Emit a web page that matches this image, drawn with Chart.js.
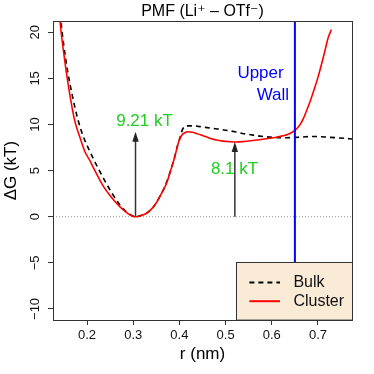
<!DOCTYPE html>
<html><head><meta charset="utf-8">
<script src="https://cdn.jsdelivr.net/npm/chart.js@4.4.1/dist/chart.umd.min.js"></script>
<style>html,body{margin:0;padding:0;background:#fff;}</style>
</head><body>
<canvas id="c" width="374" height="374"></canvas>
<script>
// ---- data ----
const rCluster = [0.1405,0.142,0.150,0.160,0.173,0.184,0.195,0.206,0.217,0.228,0.238,0.249,0.260,0.271,0.282,0.292,0.300,0.306,0.315,0.328,0.340,0.350,0.361,0.372,0.381,0.390,0.397,0.404,0.412,0.419,0.428,0.437,0.450,0.466,0.480,0.494,0.510,0.523,0.540,0.559,0.577,0.595,0.610,0.624,0.638,0.650,0.660,0.668,0.676,0.685,0.693,0.701,0.709,0.716,0.722,0.729];
const gCluster = [22.0,21.0,17.6,14.1,10.5,8.7,7.1,6.1,5.0,3.95,3.1,2.35,1.68,1.1,0.6,0.22,0.03,0.0,0.08,0.35,0.85,1.5,2.5,3.6,5.0,6.5,7.9,8.75,9.12,9.21,9.15,9.02,8.8,8.52,8.32,8.2,8.13,8.1,8.16,8.27,8.38,8.5,8.62,8.77,9.0,9.35,9.9,10.6,11.6,12.8,14.0,15.3,16.8,18.2,19.4,20.3];
const rBulk = [0.1425,0.1435,0.150,0.158,0.168,0.180,0.192,0.205,0.218,0.230,0.243,0.256,0.270,0.285,0.298,0.306,0.318,0.330,0.342,0.355,0.367,0.378,0.388,0.396,0.402,0.407,0.415,0.430,0.451,0.470,0.487,0.505,0.523,0.540,0.559,0.577,0.595,0.613,0.632,0.650,0.668,0.686,0.704,0.722,0.740,0.756,0.775];
const gBulk = [22.0,21.3,18.5,15.8,13.2,10.6,8.7,7.2,5.85,4.7,3.5,2.4,1.35,0.55,0.1,0.0,0.15,0.42,0.95,1.95,3.1,4.55,6.15,7.7,8.7,9.5,9.85,9.85,9.72,9.6,9.48,9.35,9.18,9.0,8.85,8.72,8.63,8.58,8.56,8.6,8.65,8.7,8.68,8.62,8.56,8.5,8.42];
const xTickValues = [0.2,0.3,0.4,0.5,0.6,0.7];
const yTickValues = [-10,-5,0,5,10,15,20];
const xLimits = [0.1264, 0.7736];
const yLimits = [-11.2, 21.2];
const zeroLevel = 0;
const wallR = 0.65;
const arrowR = [0.305, 0.52];
const arrowBase = [0, 0];
const arrowTop = [9.21, 8.1];
const arrowLabels = ['9.21 kT', '8.1 kT'];
const arrowLabelR = [0.3245, 0.5193];
const arrowLabelG = [10.35, 5.1];
const wallLabels = ['Upper', 'Wall'];
const wallLabelR = [0.5756, 0.6024];
const wallLabelG = [15.5, 13.2];
const legendLabels = ['Bulk', 'Cluster'];
const titleText = 'PMF (Li\u207A \u2013 OTf\u207B)';
const xTitle = 'r (nm)';
const yTitle = '\u0394G (kT)';

// ---- drawing ----
const FONT = "'Liberation Sans', Arial, 'DejaVu Sans', sans-serif";
const pts = (xs, ys) => xs.map((x, i) => ({x: x, y: ys[i]}));

const extras = {
  id: 'extras',
  afterDatasetsDraw(chart) {
    const {ctx, chartArea: a, scales: {x, y}} = chart;
    ctx.save();
    // arrows
    ctx.strokeStyle = '#333'; ctx.fillStyle = '#222'; ctx.lineWidth = 1.5;
    arrowR.forEach((r, i) => {
      const px = x.getPixelForValue(r);
      const p0 = y.getPixelForValue(arrowBase[i]);
      const p1 = y.getPixelForValue(arrowTop[i]);
      ctx.beginPath(); ctx.moveTo(px, p0); ctx.lineTo(px, p1 + 6); ctx.stroke();
      ctx.beginPath(); ctx.moveTo(px, p1); ctx.lineTo(px - 3.2, p1 + 10); ctx.lineTo(px + 3.2, p1 + 10); ctx.closePath(); ctx.fill();
    });
    // annotation texts
    ctx.font = '17px ' + FONT; ctx.textAlign = 'center'; ctx.textBaseline = 'middle';
    ctx.fillStyle = '#22CC22';
    arrowLabels.forEach((t, i) => ctx.fillText(t, x.getPixelForValue(arrowLabelR[i]), y.getPixelForValue(arrowLabelG[i])));
    ctx.fillStyle = '#0000FF';
    wallLabels.forEach((t, i) => ctx.fillText(t, x.getPixelForValue(wallLabelR[i]), y.getPixelForValue(wallLabelG[i])));
    // legend
    const lw = 116, lh = 57.6;
    const lx = a.right - lw, ly = a.bottom - lh;
    ctx.fillStyle = '#FAEBD7';
    ctx.fillRect(lx, ly, lw, lh);
    ctx.strokeStyle = '#333'; ctx.lineWidth = 1;
    ctx.strokeRect(Math.round(lx) + 0.5, Math.round(ly) + 0.5, lw, lh);
    ctx.font = '16px ' + FONT; ctx.textAlign = 'left'; ctx.textBaseline = 'middle';
    legendLabels.forEach((lab, i) => {
      const ds = chart.data.datasets.find(d => d.label === lab);
      const yy = ly + 20 + i * 18.8;
      ctx.strokeStyle = ds.borderColor; ctx.lineWidth = 2;
      ctx.setLineDash(ds.borderDash || []);
      ctx.beginPath(); ctx.moveTo(lx + 13.4, yy); ctx.lineTo(lx + 44, yy); ctx.stroke();
      ctx.setLineDash([]);
      ctx.fillStyle = '#111';
      ctx.fillText(lab, lx + 57.4, yy + 0.5);
    });
    // plot frame
    ctx.strokeStyle = '#333'; ctx.lineWidth = 1;
    ctx.strokeRect(Math.round(a.left) + 0.5, Math.round(a.top) + 0.5, Math.round(a.right) - Math.round(a.left), Math.round(a.bottom) - Math.round(a.top));
    ctx.restore();
  },
  afterDraw(chart) {
    // y tick labels rotated to read bottom-to-top (as in the original), taken from the library's own ticks
    const {ctx, scales: {y}} = chart;
    ctx.save();
    ctx.font = '13px ' + FONT; ctx.fillStyle = '#111';
    ctx.textAlign = 'center'; ctx.textBaseline = 'middle';
    y.ticks.forEach(t => {
      const py = y.getPixelForValue(t.value);
      ctx.save(); ctx.translate(35, py); ctx.rotate(-Math.PI / 2);
      ctx.fillText(t.label, 0, 0);
      ctx.restore();
    });
    ctx.restore();
  }
};

new Chart(document.getElementById('c').getContext('2d'), {
  type: 'line',
  data: {
    datasets: [
      {label: 'wall', data: [{x: wallR, y: yLimits[0]}, {x: wallR, y: yLimits[1]}], borderColor: '#0000FF', borderWidth: 2, pointRadius: 0, order: 0},
      {label: 'Cluster', data: pts(rCluster, gCluster), borderColor: '#FF0000', borderWidth: 1.6, pointRadius: 0, cubicInterpolationMode: 'monotone', order: 1},
      {label: 'Bulk', data: pts(rBulk, gBulk), borderColor: '#000000', borderDash: [5, 4], borderWidth: 1.6, pointRadius: 0, cubicInterpolationMode: 'monotone', order: 2},
      {label: 'zero', data: [{x: xLimits[0], y: zeroLevel}, {x: xLimits[1], y: zeroLevel}], borderColor: '#999999', borderWidth: 1, borderDash: [1, 2], pointRadius: 0, order: 3}
    ]
  },
  options: {
    responsive: false, animation: false, devicePixelRatio: 1,
    layout: {padding: {left: 0, right: 22, top: 0, bottom: 0}},
    plugins: {
      legend: {display: false}, tooltip: {enabled: false},
      title: {display: true, fullSize: false, text: titleText, color: '#000', font: {family: FONT, size: 16, weight: 'normal'}, padding: {top: 2, bottom: 0}}
    },
    scales: {
      x: {
        type: 'linear', min: xLimits[0], max: xLimits[1],
        afterBuildTicks: s => { s.ticks = xTickValues.map(v => ({value: v})); },
        afterFit: s => { s.height = 54; },
        grid: {drawOnChartArea: false, drawTicks: true, tickLength: 5, color: '#333'},
        border: {display: false},
        ticks: {font: {family: FONT, size: 13}, color: '#111', padding: 3, maxRotation: 0, autoSkip: false, callback: v => Number(v).toFixed(1)},
        title: {display: true, text: xTitle, color: '#000', font: {family: FONT, size: 17}, padding: {top: 0, bottom: 9}}
      },
      y: {
        type: 'linear', min: yLimits[0], max: yLimits[1],
        afterBuildTicks: s => { s.ticks = yTickValues.map(v => ({value: v})); },
        afterFit: s => { s.width = 53; },
        grid: {drawOnChartArea: false, drawTicks: true, tickLength: 5, color: '#333'},
        border: {display: false},
        ticks: {font: {family: FONT, size: 13}, color: 'rgba(0,0,0,0)', padding: 2, autoSkip: false,
                callback: v => String(v).replace('-', '\u2212')},
        title: {display: true, text: yTitle, color: '#000', font: {family: FONT, size: 17}, padding: {top: 1, bottom: 0}}
      }
    }
  },
  plugins: [extras]
});
</script>
</body></html>
